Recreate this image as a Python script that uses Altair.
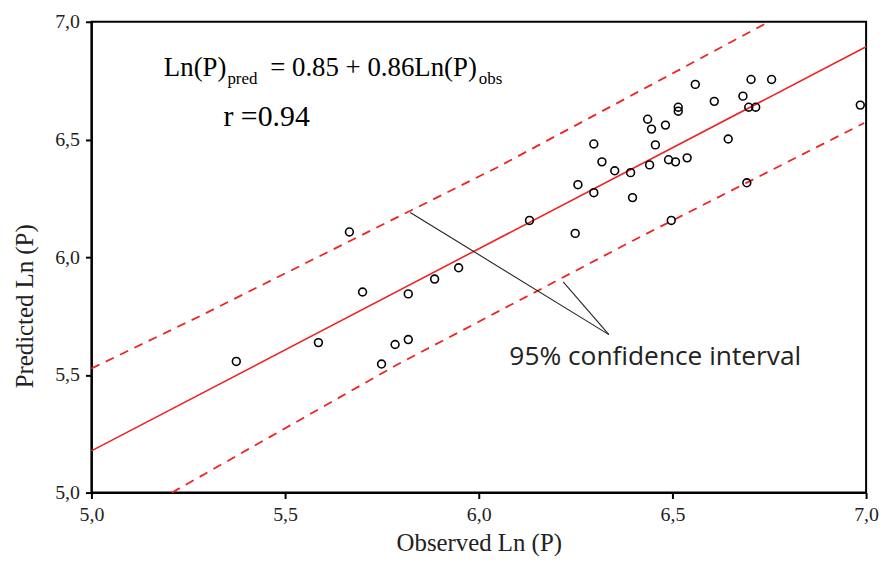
import altair as alt
import pandas as pd

# Observed vs predicted Ln(P)
obs = [6.131, 6.249, 6.256, 6.297, 6.297, 6.318, 6.351, 6.392, 6.397, 6.436,
       6.441, 6.446, 6.456, 6.482, 6.490, 6.497, 6.508, 6.515, 6.515, 6.538,
       6.559, 6.608, 6.644, 6.682, 6.692, 6.703, 6.697, 6.715, 6.756, 6.985,
       5.666, 5.700, 5.818, 5.886, 5.948, 5.374, 5.586, 5.784, 5.818, 5.749]
pred = [6.156, 6.101, 6.308, 6.274, 6.481, 6.405, 6.367, 6.359, 6.253, 6.586,
        6.392, 6.544, 6.477, 6.561, 6.414, 6.156, 6.405, 6.637, 6.620, 6.422,
        6.734, 6.662, 6.502, 6.684, 6.316, 6.755, 6.637, 6.637, 6.755, 6.646,
        6.107, 5.852, 5.844, 5.907, 5.955, 5.557, 5.637, 5.629, 5.650, 5.546]

fit_x = [5.0, 7.0]
fit_y = [5.177, 6.894]
upper_x = [5.0, 5.277, 5.738, 6.046, 6.749]
upper_y = [5.527, 5.747, 6.127, 6.380, 7.0]
lower_x = [5.208, 5.790, 6.400, 6.995]
lower_y = [5.0, 5.544, 6.072, 6.570]

# annotation pointer segments
seg_id = ["a", "a", "b", "b"]
seg_x = [5.823, 6.336, 6.218, 6.336]
seg_y = [6.190, 5.671, 5.895, 5.671]

# text annotations
eq_text = ["Ln(P)", "= 0.85 + 0.86Ln(P)", "r =0.94"]
eq_x = [5.187, 5.4615, 5.341]
eq_y = [6.768, 6.768, 6.557]
eq_size = [27, 27, 30]
sub_text = ["pred", "obs"]
sub_x = [5.351, 6.0]
sub_y = [6.734, 6.734]
ci_text = ["95% confidence interval"]
ci_x = [6.079]
ci_y = [5.544]

tick_vals = [5.0, 5.5, 6.0, 6.5, 7.0]
RED = "#ee2424"
SERIF = "Liberation Serif"

xs = alt.Scale(domain=[5, 7], nice=False, zero=False)
ys = alt.Scale(domain=[5, 7], nice=False, zero=False)
lab = "replace(format(datum.value, '.1f'), '.', ',')"

pts_df = pd.DataFrame({"obs": obs, "pred": pred})
points = alt.Chart(pts_df).mark_point(
    shape="circle", filled=False, color="black", strokeWidth=1.6, size=62, opacity=1
).encode(
    x=alt.X("obs:Q", scale=xs, title="Observed Ln (P)",
            axis=alt.Axis(values=tick_vals, labelExpr=lab, grid=False, titleY=50,
                          titleBaseline="middle", labelFlush=False)),
    y=alt.Y("pred:Q", scale=ys, title="Predicted Ln (P)",
            axis=alt.Axis(values=tick_vals, labelExpr=lab, grid=False, titleX=-67,
                          titleY=286, titleAngle=270, titleBaseline="middle",
                          labelFlush=False)),
)

fit = alt.Chart(pd.DataFrame({"x": fit_x, "y": fit_y})).mark_line(
    color=RED, strokeWidth=1.6
).encode(x=alt.X("x:Q", scale=xs), y=alt.Y("y:Q", scale=ys))

upper = alt.Chart(pd.DataFrame({"x": upper_x, "y": upper_y})).mark_line(
    color=RED, strokeWidth=1.8, strokeDash=[9, 7]
).encode(x=alt.X("x:Q", scale=xs), y=alt.Y("y:Q", scale=ys))

lower = alt.Chart(pd.DataFrame({"x": lower_x, "y": lower_y})).mark_line(
    color=RED, strokeWidth=1.8, strokeDash=[9, 7]
).encode(x=alt.X("x:Q", scale=xs), y=alt.Y("y:Q", scale=ys))

pointer = alt.Chart(pd.DataFrame({"id": seg_id, "x": seg_x, "y": seg_y})).mark_line(
    color="#222222", strokeWidth=1.1
).encode(x=alt.X("x:Q", scale=xs), y=alt.Y("y:Q", scale=ys), detail="id:N")

eq = alt.Chart(pd.DataFrame({"t": eq_text, "x": eq_x, "y": eq_y, "s": eq_size})).mark_text(
    align="left", baseline="alphabetic", font=SERIF, color="black"
).encode(x=alt.X("x:Q", scale=xs), y=alt.Y("y:Q", scale=ys), text="t:N",
         size=alt.Size("s:Q", scale=None, legend=None))

sub = alt.Chart(pd.DataFrame({"t": sub_text, "x": sub_x, "y": sub_y})).mark_text(
    align="left", baseline="alphabetic", font=SERIF, fontSize=17, color="black"
).encode(x=alt.X("x:Q", scale=xs), y=alt.Y("y:Q", scale=ys), text="t:N")

ci = alt.Chart(pd.DataFrame({"t": ci_text, "x": ci_x, "y": ci_y})).mark_text(
    align="left", baseline="alphabetic", font="Open Sans", fontSize=26.5, color="#222222"
).encode(x=alt.X("x:Q", scale=xs), y=alt.Y("y:Q", scale=ys), text="t:N")

chart = alt.layer(fit, upper, lower, pointer, points, eq, sub, ci).properties(
    width=780, height=474,
    autosize=alt.AutoSizeParams(type="none"),
    padding={"left": 84, "top": 12, "right": 15, "bottom": 62},
).configure_view(
    stroke="black", strokeWidth=2
).configure_axis(
    domainColor="black", domainWidth=2, tickColor="black", tickWidth=2, tickSize=6,
    labelFont=SERIF, labelFontSize=20, labelColor="#222222", labelPadding=6,
    titleFont=SERIF, titleFontSize=25, titleFontWeight="normal", titleColor="#222222",
)

chart.save("out.html", embed_options={"renderer": "svg", "actions": False})
